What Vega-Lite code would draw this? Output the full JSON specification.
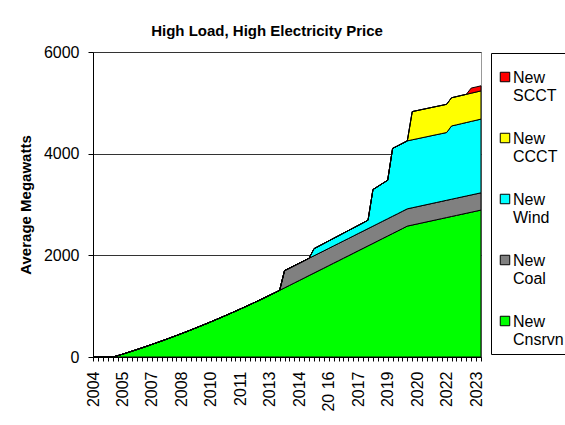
{
  "$schema": "https://vega.github.io/schema/vega-lite/v6.json",
  "autosize": "none",
  "width": 388,
  "height": 305,
  "padding": {"left": 93, "top": 52, "right": 84, "bottom": 68},
  "background": "white",
  "config": {
    "font": "Liberation Sans",
    "view": {"stroke": "#999999", "strokeWidth": 1},
    "axis": {"labelColor": "black", "titleColor": "black", "domainColor": "black", "tickColor": "black"}
  },
  "title": {"text": "High Load, High Electricity Price", "fontSize": 15, "fontWeight": "bold", "color": "black", "anchor": "middle", "dx": -20, "offset": 5},
  "data": {"values": [
    {"t": 2004, "Cnsrvn": 0, "Coal": 0, "Wind": 0, "CCCT": 0, "SCCT": 0},
    {"t": 2004.25, "Cnsrvn": 0, "Coal": 0, "Wind": 0, "CCCT": 0, "SCCT": 0},
    {"t": 2004.5, "Cnsrvn": 0, "Coal": 0, "Wind": 0, "CCCT": 0, "SCCT": 0},
    {"t": 2004.75, "Cnsrvn": 0, "Coal": 0, "Wind": 0, "CCCT": 0, "SCCT": 0},
    {"t": 2005, "Cnsrvn": 0, "Coal": 0, "Wind": 0, "CCCT": 0, "SCCT": 0},
    {"t": 2005.25, "Cnsrvn": 25, "Coal": 0, "Wind": 0, "CCCT": 0, "SCCT": 0},
    {"t": 2005.5, "Cnsrvn": 55, "Coal": 0, "Wind": 0, "CCCT": 0, "SCCT": 0},
    {"t": 2005.75, "Cnsrvn": 86, "Coal": 0, "Wind": 0, "CCCT": 0, "SCCT": 0},
    {"t": 2006, "Cnsrvn": 117, "Coal": 0, "Wind": 0, "CCCT": 0, "SCCT": 0},
    {"t": 2006.25, "Cnsrvn": 149, "Coal": 0, "Wind": 0, "CCCT": 0, "SCCT": 0},
    {"t": 2006.5, "Cnsrvn": 181, "Coal": 0, "Wind": 0, "CCCT": 0, "SCCT": 0},
    {"t": 2006.75, "Cnsrvn": 214, "Coal": 0, "Wind": 0, "CCCT": 0, "SCCT": 0},
    {"t": 2007, "Cnsrvn": 248, "Coal": 0, "Wind": 0, "CCCT": 0, "SCCT": 0},
    {"t": 2007.25, "Cnsrvn": 282, "Coal": 0, "Wind": 0, "CCCT": 0, "SCCT": 0},
    {"t": 2007.5, "Cnsrvn": 316, "Coal": 0, "Wind": 0, "CCCT": 0, "SCCT": 0},
    {"t": 2007.75, "Cnsrvn": 351, "Coal": 0, "Wind": 0, "CCCT": 0, "SCCT": 0},
    {"t": 2008, "Cnsrvn": 387, "Coal": 0, "Wind": 0, "CCCT": 0, "SCCT": 0},
    {"t": 2008.25, "Cnsrvn": 423, "Coal": 0, "Wind": 0, "CCCT": 0, "SCCT": 0},
    {"t": 2008.5, "Cnsrvn": 460, "Coal": 0, "Wind": 0, "CCCT": 0, "SCCT": 0},
    {"t": 2008.75, "Cnsrvn": 497, "Coal": 0, "Wind": 0, "CCCT": 0, "SCCT": 0},
    {"t": 2009, "Cnsrvn": 535, "Coal": 0, "Wind": 0, "CCCT": 0, "SCCT": 0},
    {"t": 2009.25, "Cnsrvn": 574, "Coal": 0, "Wind": 0, "CCCT": 0, "SCCT": 0},
    {"t": 2009.5, "Cnsrvn": 613, "Coal": 0, "Wind": 0, "CCCT": 0, "SCCT": 0},
    {"t": 2009.75, "Cnsrvn": 652, "Coal": 0, "Wind": 0, "CCCT": 0, "SCCT": 0},
    {"t": 2010, "Cnsrvn": 692, "Coal": 0, "Wind": 0, "CCCT": 0, "SCCT": 0},
    {"t": 2010.25, "Cnsrvn": 733, "Coal": 0, "Wind": 0, "CCCT": 0, "SCCT": 0},
    {"t": 2010.5, "Cnsrvn": 774, "Coal": 0, "Wind": 0, "CCCT": 0, "SCCT": 0},
    {"t": 2010.75, "Cnsrvn": 816, "Coal": 0, "Wind": 0, "CCCT": 0, "SCCT": 0},
    {"t": 2011, "Cnsrvn": 858, "Coal": 0, "Wind": 0, "CCCT": 0, "SCCT": 0},
    {"t": 2011.25, "Cnsrvn": 901, "Coal": 0, "Wind": 0, "CCCT": 0, "SCCT": 0},
    {"t": 2011.5, "Cnsrvn": 944, "Coal": 0, "Wind": 0, "CCCT": 0, "SCCT": 0},
    {"t": 2011.75, "Cnsrvn": 988, "Coal": 0, "Wind": 0, "CCCT": 0, "SCCT": 0},
    {"t": 2012, "Cnsrvn": 1032, "Coal": 0, "Wind": 0, "CCCT": 0, "SCCT": 0},
    {"t": 2012.25, "Cnsrvn": 1077, "Coal": 0, "Wind": 0, "CCCT": 0, "SCCT": 0},
    {"t": 2012.5, "Cnsrvn": 1123, "Coal": 0, "Wind": 0, "CCCT": 0, "SCCT": 0},
    {"t": 2012.75, "Cnsrvn": 1169, "Coal": 0, "Wind": 0, "CCCT": 0, "SCCT": 0},
    {"t": 2013, "Cnsrvn": 1216, "Coal": 0, "Wind": 0, "CCCT": 0, "SCCT": 0},
    {"t": 2013.25, "Cnsrvn": 1263, "Coal": 0, "Wind": 0, "CCCT": 0, "SCCT": 0},
    {"t": 2013.5, "Cnsrvn": 1311, "Coal": 0, "Wind": 0, "CCCT": 0, "SCCT": 0},
    {"t": 2013.75, "Cnsrvn": 1360, "Coal": 340, "Wind": 0, "CCCT": 0, "SCCT": 0},
    {"t": 2014, "Cnsrvn": 1408, "Coal": 340, "Wind": 0, "CCCT": 0, "SCCT": 0},
    {"t": 2014.25, "Cnsrvn": 1457, "Coal": 340, "Wind": 0, "CCCT": 0, "SCCT": 0},
    {"t": 2014.5, "Cnsrvn": 1505, "Coal": 340, "Wind": 0, "CCCT": 0, "SCCT": 0},
    {"t": 2014.75, "Cnsrvn": 1554, "Coal": 340, "Wind": 0, "CCCT": 0, "SCCT": 0},
    {"t": 2015, "Cnsrvn": 1603, "Coal": 340, "Wind": 0, "CCCT": 0, "SCCT": 0},
    {"t": 2015.25, "Cnsrvn": 1651, "Coal": 340, "Wind": 140, "CCCT": 0, "SCCT": 0},
    {"t": 2015.5, "Cnsrvn": 1700, "Coal": 340, "Wind": 142, "CCCT": 0, "SCCT": 0},
    {"t": 2015.75, "Cnsrvn": 1748, "Coal": 340, "Wind": 145, "CCCT": 0, "SCCT": 0},
    {"t": 2016, "Cnsrvn": 1797, "Coal": 340, "Wind": 147, "CCCT": 0, "SCCT": 0},
    {"t": 2016.25, "Cnsrvn": 1846, "Coal": 340, "Wind": 149, "CCCT": 0, "SCCT": 0},
    {"t": 2016.5, "Cnsrvn": 1894, "Coal": 340, "Wind": 151, "CCCT": 0, "SCCT": 0},
    {"t": 2016.75, "Cnsrvn": 1943, "Coal": 340, "Wind": 154, "CCCT": 0, "SCCT": 0},
    {"t": 2017, "Cnsrvn": 1991, "Coal": 340, "Wind": 156, "CCCT": 0, "SCCT": 0},
    {"t": 2017.25, "Cnsrvn": 2040, "Coal": 340, "Wind": 158, "CCCT": 0, "SCCT": 0},
    {"t": 2017.5, "Cnsrvn": 2089, "Coal": 340, "Wind": 160, "CCCT": 0, "SCCT": 0},
    {"t": 2017.75, "Cnsrvn": 2137, "Coal": 340, "Wind": 163, "CCCT": 0, "SCCT": 0},
    {"t": 2018, "Cnsrvn": 2186, "Coal": 340, "Wind": 165, "CCCT": 0, "SCCT": 0},
    {"t": 2018.25, "Cnsrvn": 2234, "Coal": 340, "Wind": 720, "CCCT": 0, "SCCT": 0},
    {"t": 2018.5, "Cnsrvn": 2283, "Coal": 340, "Wind": 732, "CCCT": 0, "SCCT": 0},
    {"t": 2018.75, "Cnsrvn": 2332, "Coal": 340, "Wind": 745, "CCCT": 0, "SCCT": 0},
    {"t": 2019, "Cnsrvn": 2380, "Coal": 340, "Wind": 757, "CCCT": 0, "SCCT": 0},
    {"t": 2019.25, "Cnsrvn": 2429, "Coal": 340, "Wind": 1335, "CCCT": 0, "SCCT": 0},
    {"t": 2019.5, "Cnsrvn": 2477, "Coal": 340, "Wind": 1335, "CCCT": 0, "SCCT": 0},
    {"t": 2019.75, "Cnsrvn": 2526, "Coal": 340, "Wind": 1336, "CCCT": 0, "SCCT": 0},
    {"t": 2020, "Cnsrvn": 2575, "Coal": 340, "Wind": 1337, "CCCT": 0, "SCCT": 0},
    {"t": 2020.25, "Cnsrvn": 2596, "Coal": 340, "Wind": 1337, "CCCT": 555, "SCCT": 0},
    {"t": 2020.5, "Cnsrvn": 2617, "Coal": 340, "Wind": 1336, "CCCT": 555, "SCCT": 0},
    {"t": 2020.75, "Cnsrvn": 2638, "Coal": 340, "Wind": 1336, "CCCT": 555, "SCCT": 0},
    {"t": 2021, "Cnsrvn": 2659, "Coal": 340, "Wind": 1335, "CCCT": 555, "SCCT": 0},
    {"t": 2021.25, "Cnsrvn": 2680, "Coal": 340, "Wind": 1335, "CCCT": 555, "SCCT": 0},
    {"t": 2021.5, "Cnsrvn": 2701, "Coal": 340, "Wind": 1334, "CCCT": 555, "SCCT": 0},
    {"t": 2021.75, "Cnsrvn": 2722, "Coal": 340, "Wind": 1333, "CCCT": 555, "SCCT": 0},
    {"t": 2022, "Cnsrvn": 2743, "Coal": 340, "Wind": 1333, "CCCT": 555, "SCCT": 0},
    {"t": 2022.25, "Cnsrvn": 2764, "Coal": 340, "Wind": 1441, "CCCT": 555, "SCCT": 0},
    {"t": 2022.5, "Cnsrvn": 2785, "Coal": 340, "Wind": 1442, "CCCT": 555, "SCCT": 0},
    {"t": 2022.75, "Cnsrvn": 2806, "Coal": 340, "Wind": 1444, "CCCT": 555, "SCCT": 0},
    {"t": 2023, "Cnsrvn": 2827, "Coal": 340, "Wind": 1445, "CCCT": 555, "SCCT": 0},
    {"t": 2023.25, "Cnsrvn": 2848, "Coal": 340, "Wind": 1447, "CCCT": 555, "SCCT": 100},
    {"t": 2023.5, "Cnsrvn": 2869, "Coal": 340, "Wind": 1448, "CCCT": 555, "SCCT": 100},
    {"t": 2023.75, "Cnsrvn": 2890, "Coal": 340, "Wind": 1450, "CCCT": 555, "SCCT": 100}
  ]},
  "transform": [
    {"fold": ["Cnsrvn", "Coal", "Wind", "CCCT", "SCCT"], "as": ["series", "mw"]},
    {"calculate": "indexof(['Cnsrvn','Coal','Wind','CCCT','SCCT'], datum.series)", "as": "k"}
  ],
  "mark": {"type": "area", "stroke": "black", "strokeWidth": 1, "opacity": 1, "strokeJoin": "miter"},
  "encoding": {
    "x": {
      "field": "t", "type": "quantitative",
      "scale": {"domain": [2004, 2023.75], "nice": false, "zero": false},
      "axis": {
        "title": null, "grid": false, "tickSize": 4, "labelAngle": 270, "labelFontSize": 16,
        "labelPadding": 10, "labelOverlap": false, "labelBound": false, "labelFlush": false,
        "values": [2004,2004.25,2004.5,2004.75,2005,2005.25,2005.5,2005.75,2006,2006.25,2006.5,2006.75,2007,2007.25,2007.5,2007.75,2008,2008.25,2008.5,2008.75,2009,2009.25,2009.5,2009.75,2010,2010.25,2010.5,2010.75,2011,2011.25,2011.5,2011.75,2012,2012.25,2012.5,2012.75,2013,2013.25,2013.5,2013.75,2014,2014.25,2014.5,2014.75,2015,2015.25,2015.5,2015.75,2016,2016.25,2016.5,2016.75,2017,2017.25,2017.5,2017.75,2018,2018.25,2018.5,2018.75,2019,2019.25,2019.5,2019.75,2020,2020.25,2020.5,2020.75,2021,2021.25,2021.5,2021.75,2022,2022.25,2022.5,2022.75,2023,2023.25,2023.5,2023.75],
        "labelExpr": "(round((datum.value - 2004) * 4) % 6 == 0) ? (floor(datum.value) == 2016 ? '20 16' : '' + floor(datum.value)) : ''"
      }
    },
    "y": {
      "field": "mw", "type": "quantitative", "stack": "zero",
      "scale": {"domain": [0, 6000], "nice": false},
      "axis": {
        "title": "Average Megawatts", "titleFontSize": 15, "titleFontWeight": "bold", "titlePadding": 10,
        "values": [0, 2000, 4000, 6000], "format": "d", "labelFontSize": 16, "labelPadding": 9,
        "tickSize": 5, "grid": true, "gridColor": "#333333", "gridOpacity": 1
      }
    },
    "color": {
      "field": "series", "type": "nominal",
      "scale": {"domain": ["SCCT", "CCCT", "Wind", "Coal", "Cnsrvn"], "range": ["#ff0000", "#ffff00", "#00ffff", "#808080", "#00ff00"]},
      "legend": {
        "title": " ", "titleFontSize": 8, "titlePadding": 2, "orient": "none", "legendX": 398, "legendY": 1,
        "labelExpr": "['New', datum.label]", "labelFontSize": 16, "labelColor": "black",
        "labelBaseline": "top", "labelOffset": 0,
        "symbolType": "square", "symbolSize": 90, "symbolStrokeColor": "black", "symbolStrokeWidth": 1, "symbolOpacity": 1,
        "strokeColor": "black", "fillColor": "white", "padding": 6, "rowPadding": 26,
        "encode": {"labels": {"update": {"dy": {"value": -7}}}}
      }
    },
    "order": {"field": "k", "type": "quantitative"}
  }
}
